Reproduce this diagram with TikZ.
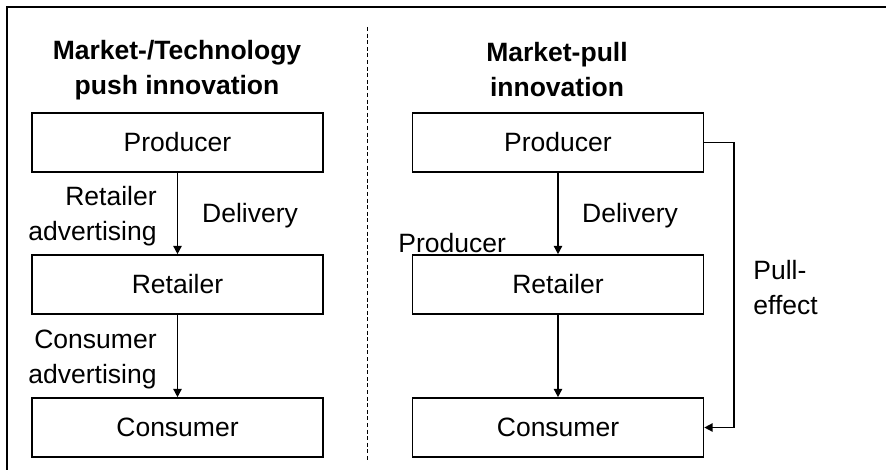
\documentclass[tikz,border=0pt]{standalone}
\usepackage{fontspec}
\setmainfont{Liberation Sans}
\usetikzlibrary{arrows.meta}
\begin{document}
\begin{tikzpicture}[x=0.5pt,y=-0.5pt,
  every node/.style={font=\fontsize{13.25}{17.5}\selectfont},
  box/.style={draw,line width=0.8pt,minimum width=145.5pt,minimum height=29.5pt,inner sep=0pt},
  lbl/.style={inner sep=0pt},
  flow/.style={line width=0.75pt,-{Triangle[length=4.2pt,width=4.2pt]}},
  title/.style={align=center,font=\fontsize{13.25}{17.5}\selectfont\bfseries,inner sep=0pt}]
\useasboundingbox (0,0) rectangle (886,470);
% frame (top and left edges only)
\draw[line width=0.8pt] (886,7) -- (7,7) -- (7,470);
% column separator
\draw[line width=0.5pt,dash pattern=on 2pt off 1.3pt] (367,27) -- (367,462);

% push innovation column
\node[title] (t1) at (177,70) {Market-/Technology\\push innovation};
\node[box] (p1) at (177.5,142.5) {Producer};
\node[box] (r1) at (177.5,284.5) {Retailer};
\node[box] (c1) at (177.5,427.5) {Consumer};
\draw[flow] (p1) -- (r1);
\draw[flow] (r1) -- (c1);
\node[lbl,align=right,anchor=east] (ra) at (157,216) {Retailer\\advertising};
\node[lbl] (d1) at (250,216) {Delivery};
\node[lbl,align=right,anchor=east] (ca) at (157,359) {Consumer\\advertising};

% pull innovation column
\node[title] (t2) at (557,70) {Market-pull\\innovation};
\node[box] (p2) at (558,142.5) {Producer};
\node[box] (r2) at (558,284.5) {Retailer};
\node[box] (c2) at (558,427.5) {Consumer};
\draw[flow] (p2) -- (r2);
\draw[flow] (r2) -- (c2);
\node[lbl] (d2) at (630,216) {Delivery};
\node[lbl,anchor=west] (pl) at (398,243) {Producer};
\coordinate (pullx) at (734,0);
\draw[flow] (p2.east) -- (p2.east -| pullx) |- (c2.east);
\node[lbl,align=left,anchor=west] (pe) at (753,288) {Pull-\\effect};
\end{tikzpicture}
\end{document}
